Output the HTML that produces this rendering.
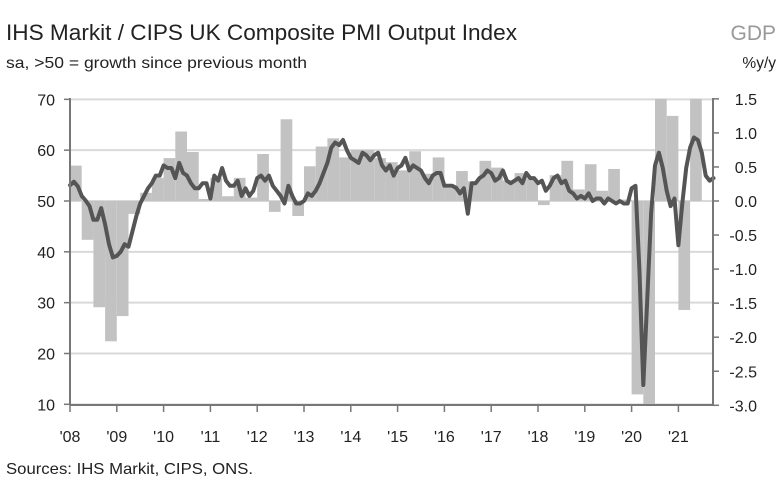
<!DOCTYPE html>
<html><head><meta charset="utf-8"><style>
body{margin:0;background:#fff;}
svg{display:block;font-family:"Liberation Sans",sans-serif;}
</style></head><body>
<svg id="c" width="781" height="492">
<text x="6" y="40" font-size="22" fill="#222" textLength="511" lengthAdjust="spacingAndGlyphs">IHS Markit / CIPS UK Composite PMI Output Index</text>
<text x="6" y="68" font-size="16" fill="#222" textLength="301" lengthAdjust="spacingAndGlyphs">sa, &gt;50 = growth since previous month</text>
<text x="776" y="40" font-size="21" fill="#999" text-anchor="end">GDP</text>
<text x="776" y="68" font-size="15.5" fill="#222" text-anchor="end">%y/y</text>
<text x="6" y="474" font-size="16" fill="#222" textLength="247" lengthAdjust="spacingAndGlyphs">Sources: IHS Markit, CIPS, ONS.</text>
<g id="grid"></g><g id="bars"></g><g id="line"></g><g id="axes"></g>
</svg>
<script>
const leftTicks=[70,60,50,40,30,20,10];
const rightTicks=[1.5,1.0,0.5,0.0,-0.5,-1.0,-1.5,-2.0,-2.5,-3.0];
const yearLabels=["'08","'09","'10","'11","'12","'13","'14","'15","'16","'17","'18","'19","'20","'21"];
const gdp=[0.52,-0.57,-1.56,-2.06,-1.69,-0.19,0.12,0.34,0.63,1.02,0.72,0.03,0.34,0.07,0.34,0.05,0.69,-0.16,1.2,-0.22,0.51,0.8,0.92,0.64,0.75,0.75,0.63,0.57,0.45,0.73,0.4,0.64,0.19,0.44,0.29,0.59,0.49,0.3,0.41,0.33,-0.06,0.38,0.59,0.17,0.54,0.15,0.47,0.02,-2.84,-19.5,16,1.25,-1.6,5.5];
const pmi=[53.1,53.8,52.9,51,50.1,49,46.3,46.3,48.6,45.4,41.5,38.9,
39.2,40,41.5,41,44,47,49.5,51,52.5,53.5,55,55,
57,56.5,56.5,54.5,57.5,55.5,55,53.5,52.5,52.5,53.5,53.5,
50.5,55,54,56.5,54,53,53,54,51,52.5,51,52,
54.5,55,54,55,53,52,51,49.5,53,51,49.5,49.5,
50,51.5,51,52,53.5,55.5,57.5,60.5,61.5,61,62,60,
58.5,58,57.5,59.5,59,58,59,59.5,57,56,57,55,
56.5,57,58.5,56,57,56.5,56,54.5,53.5,55,55.5,55.5,
53,53,53,52.6,51.5,52.5,47.5,53.5,53.5,54.5,55,56,
55.5,54,54.5,56,54,53.5,54,54.5,53.5,55.5,54.5,54.5,
53.5,54,52,53,54.5,55,53.5,54,52,51.5,50.5,51,
50.5,51.5,50,50.5,50.5,49.5,50.5,50,49.5,50,49.5,49.5,
52.5,53,36.5,13.8,30.4,47.5,57,59.5,56.5,52,49,50.5,
41.3,49.5,56.5,60.5,62.5,62,59.5,55,54,54.5];
const NS="http://www.w3.org/2000/svg";
const X0=70,PX=46.8,Y50=201,PU=5.083,R0=201,RU=68.1,TOP=100,BOT=405,RIGHT=713;
function xs(t){return X0+(t-2008)*PX;}
function yl(v){return Y50-(v-50)*PU;}
function yr(v){return R0-v*RU;}
function mk(tag,attrs,parent){const e=document.createElementNS(NS,tag);for(const k in attrs)e.setAttribute(k,attrs[k]);document.getElementById(parent).appendChild(e);return e;}
leftTicks.forEach(v=>{
 const g=mk('line',{x1:X0,x2:RIGHT,y1:yl(v),y2:yl(v),stroke:'#d9d9d9','stroke-width':2},'grid');
 
 
 const t=mk('text',{x:55,y:yl(v)+6,'font-size':16,'text-anchor':'end',fill:'#222'},'axes');t.textContent=v;
 
 
 mk('line',{x1:X0-6,x2:X0,y1:yl(v),y2:yl(v),stroke:'#777','stroke-width':1.5},'axes');
});
rightTicks.forEach(v=>{
 const t=mk('text',{x:757,y:yr(v)+6,'font-size':16,'text-anchor':'end',fill:'#222'},'axes');t.textContent=v.toFixed(1);
 
 
 mk('line',{x1:RIGHT,x2:RIGHT+6,y1:yr(v),y2:yr(v),stroke:'#777','stroke-width':1.5},'axes');
});
gdp.forEach((v,i)=>{
 const t=2008+i/4;const a=Math.max(-3,Math.min(1.5,v));
 const y1=Math.min(yr(a),yr(0)),h=Math.abs(yr(a)-yr(0));
 const b=mk('rect',{x:xs(t),y:y1,width:PX/4,height:h,fill:'#c2c2c2'},'bars');
 
 
});
const pts=pmi.map((v,i)=>xs(2008+i/12).toFixed(1)+','+yl(v).toFixed(1)).join(' ');
const pl=mk('polyline',{points:pts,fill:'none',stroke:'#555','stroke-width':4,'stroke-linejoin':'round','stroke-linecap':'round'},'line');


yearLabels.forEach((s,i)=>{
 const x=xs(2008+i);
 mk('line',{x1:x,x2:x,y1:BOT,y2:BOT+7,stroke:'#777','stroke-width':1.5},'axes');
 const t=mk('text',{x:x,y:442,'font-size':16,'text-anchor':'middle',fill:'#222'},'axes');t.textContent=s;
 
 
});
const a1=mk('line',{x1:X0,x2:X0,y1:TOP-2,y2:BOT,stroke:'#777','stroke-width':2},'axes');


const a2=mk('line',{x1:RIGHT,x2:RIGHT,y1:TOP-2,y2:BOT,stroke:'#777','stroke-width':2},'axes');


const a3=mk('line',{x1:X0,x2:RIGHT,y1:BOT,y2:BOT,stroke:'#777','stroke-width':2},'axes');


</script>
</body></html>
